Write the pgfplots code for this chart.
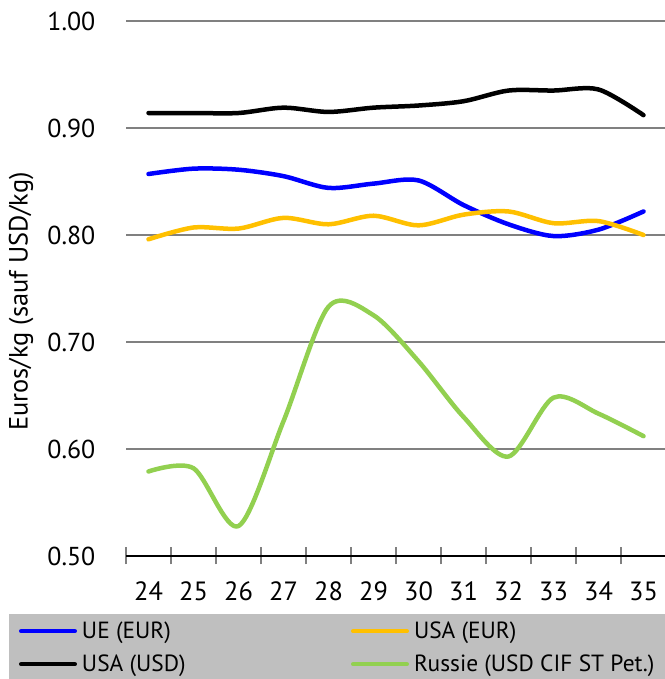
\documentclass[border=0pt]{standalone}
\usepackage{fontspec}
\setmainfont{PT Sans}
\usepackage{pgfplots}
\pgfplotsset{compat=1.18}
\definecolor{ueblue}{HTML}{0000FF}
\definecolor{usayel}{HTML}{FFC000}
\definecolor{rugreen}{HTML}{92D050}
\definecolor{leggray}{HTML}{BFBFBF}
\definecolor{gridgray}{HTML}{808080}
\begin{document}
\begin{tikzpicture}[x=1bp,y=1bp]
\path[use as bounding box] (0,0) rectangle (665,679);
\fill[leggray] (9,0) rectangle (665,65);
\begin{axis}[
  at={(126bp,123bp)}, anchor=south west,
  scale only axis, width=540bp, height=535bp,
  xmin=23.5, xmax=35.5, ymin=0.5, ymax=1.0,
  axis x line*=bottom, axis y line*=left,
  y axis line style={draw=none},
  x axis line style={black, line width=1.2bp},
  xtick={23.5,24.5,25.5,26.5,27.5,28.5,29.5,30.5,31.5,32.5,33.5,34.5,35.5},
  x tick label as interval,
  xticklabels={24,25,26,27,28,29,30,31,32,33,34,35},
  ytick={0.5,0.6,0.7,0.8,0.9,1.0},
  yticklabels={0.50,0.60,0.70,0.80,0.90,1.00},
  tick align=center,
  major tick length=17bp,
  xtick style={gridgray, line width=1.2bp},
  ytick style={draw=none},
  ymajorgrids,
  grid style={gridgray, line width=1.2bp},
  xticklabel style={font=\fontsize{26.5}{30}\selectfont, inner sep=0pt, anchor=base, yshift=-36bp},
  yticklabel style={font=\fontsize{26}{30}\selectfont, inner sep=0pt, anchor=east, xshift=-22bp},
  ylabel={Euros/kg (sauf USD/kg)},
  ylabel style={at={(axis description cs:-0.1944,0.4757)}, anchor=center, font=\fontsize{26.5}{30}\selectfont, inner sep=0pt},
  legend columns=2,
  legend style={at={(axis description cs:-0.19815,-0.12336)}, anchor=north west, draw=none, fill=none,
    inner sep=0pt, outer sep=0pt, font=\fontsize{23.5}{27}\selectfont,
    column sep=5bp, row sep=15bp, cells={anchor=west}, nodes={inner sep=0pt}},
  legend image code/.code={\draw[#1, line cap=round] (2.25bp,0bp) -- (55.75bp,0bp);},
  every axis plot/.append style={line width=4.5bp, smooth, tension=0.5, line cap=round, line join=round},
]
\addplot[ueblue] coordinates {(24,0.857) (25,0.862) (26,0.861) (27,0.855) (28,0.844) (29,0.848) (30,0.851) (31,0.828) (32,0.810) (33,0.799) (34,0.805) (35,0.822)};
\addlegendentry{\makebox[264bp][l]{UE (EUR)}}
\addplot[usayel] coordinates {(24,0.796) (25,0.807) (26,0.806) (27,0.816) (28,0.810) (29,0.818) (30,0.809) (31,0.819) (32,0.822) (33,0.811) (34,0.813) (35,0.800)};
\addlegendentry{USA (EUR)}
\addplot[black] coordinates {(24,0.914) (25,0.914) (26,0.914) (27,0.919) (28,0.915) (29,0.919) (30,0.921) (31,0.925) (32,0.935) (33,0.935) (34,0.936) (35,0.912)};
\addlegendentry{\makebox[264bp][l]{USA (USD)}}
\addplot[rugreen] coordinates {(24,0.579) (25,0.582) (26,0.528) (27,0.626) (28,0.733) (29,0.725) (30,0.682) (31,0.630) (32,0.593) (33,0.648) (34,0.633) (35,0.612)};
\addlegendentry{Russie (USD CIF ST Pet.)}
\end{axis}
\end{tikzpicture}
\end{document}
